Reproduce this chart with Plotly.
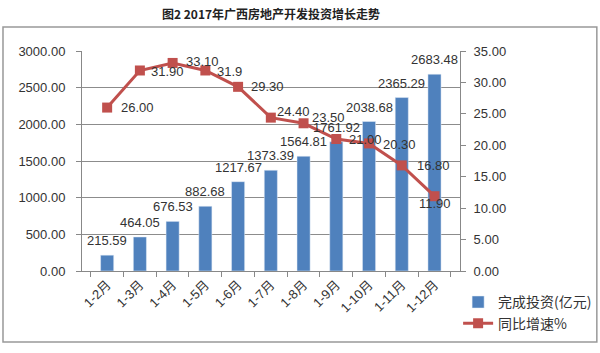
import plotly.graph_objects as go

categories = ["1-2月", "1-3月", "1-4月", "1-5月", "1-6月", "1-7月", "1-8月", "1-9月", "1-10月", "1-11月", "1-12月"]
investment = [215.59, 464.05, 676.53, 882.68, 1217.67, 1373.39, 1564.81, 1761.92, 2038.68, 2365.29, 2683.48]
growth = [26.00, 31.90, 33.10, 31.9, 29.30, 24.40, 23.50, 21.00, 20.30, 16.80, 11.90]
growth_labels = ["26.00", "31.90", "33.10", "31.9", "29.30", "24.40", "23.50", "21.00", "20.30", "16.80", "11.90"]

# label style offsets (pixels) for the growth labels
label_dx = [12, 9, 11, 10, 11, 4, 6, 11, 12, 13, 0]
label_dy = [0, -1, 1, -1, 0, 6, 6, 0, -1, 0, -7]
label_anchor = ["left"] * 10 + ["center"]

font_family = "Liberation Sans, Noto Sans CJK SC, sans-serif"
txt_color = "#333333"
fs = 13

fig = go.Figure()
fig.add_trace(go.Bar(
    x=categories, y=investment, name="完成投资(亿元)",
    marker=dict(color="#4F81BD"), width=0.4,
))
fig.add_trace(go.Scatter(
    x=categories, y=growth, name="同比增速%", yaxis="y2",
    mode="lines+markers",
    line=dict(color="#C0504D", width=3),
    marker=dict(symbol="square", size=10, color="#C0504D"),
    cliponaxis=False,
))

annotations = []
for c, v in zip(categories, investment):
    annotations.append(dict(x=c, y=v, xref="x", yref="y", text=f"{v:.2f}", showarrow=False,
                            xanchor="center", yanchor="bottom", yshift=5,
                            font=dict(size=fs, color=txt_color)))
for c, v, t, dx, dy, a in zip(categories, growth, growth_labels, label_dx, label_dy, label_anchor):
    annotations.append(dict(x=c, y=v, xref="x", yref="y2", text=t, showarrow=False,
                            xanchor=a, yanchor="middle", xshift=dx, yshift=dy,
                            font=dict(size=fs, color=txt_color)))

fig.update_layout(
    width=600, height=353,
    margin=dict(l=82, r=140, t=51, b=82, autoexpand=False),
    paper_bgcolor="white", plot_bgcolor="white",
    font=dict(family=font_family, size=fs, color=txt_color),
    title=dict(text="<b>图2 2017年广西房地产开发投资增长走势</b>", x=0.5, xref="paper",
               y=0.957, yref="container", yanchor="middle",
               font=dict(size=12, color="#222222", family="Noto Sans CJK SC, sans-serif")),
    showlegend=True,
    legend=dict(x=0.995, y=-0.07, xanchor="left", yanchor="top",
                font=dict(size=14, color=txt_color, family="Noto Sans CJK SC, sans-serif"),
                bgcolor="rgba(0,0,0,0)", tracegroupgap=4),
    bargap=0.6,
    annotations=annotations,
    xaxis=dict(type="category", tickangle=-45, showline=True, linecolor="#888888",
               ticks="outside", tickson="boundaries", ticklen=5, tickcolor="#888888",
               tickfont=dict(size=fs), showgrid=False),
    yaxis=dict(range=[0, 3000], dtick=500, tickformat=".2f", showgrid=True,
               gridcolor="#8c8c8c", gridwidth=1, showline=True, linecolor="#888888",
               ticks="outside", ticklen=5, tickcolor="#888888", zeroline=False,
               ticklabelstandoff=8, tickfont=dict(size=fs)),
    yaxis2=dict(range=[0, 35], dtick=5, tickformat=".2f", overlaying="y", side="right",
                showgrid=False, showline=True, linecolor="#888888", ticks="outside",
                ticklen=5, tickcolor="#888888", zeroline=False, ticklabelstandoff=5,
                tickfont=dict(size=fs)),
    shapes=[dict(type="rect", xref="paper", yref="paper",
                 x0=-0.209, x1=1.362, y0=-0.323, y1=1.109,
                 line=dict(color="#999999", width=1.5), fillcolor="rgba(0,0,0,0)", layer="below")],
)

fig.write_html("out.html")
